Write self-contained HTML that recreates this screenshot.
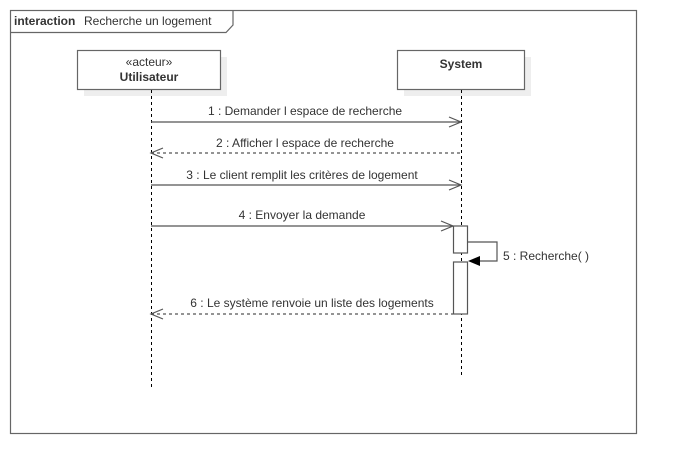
<!DOCTYPE html><html><head><style>body{margin:0;background:#fff}svg{display:block}text{font-family:"Liberation Sans",sans-serif;font-size:12px;fill:#333}</style></head><body>
<svg width="677" height="474" xmlns="http://www.w3.org/2000/svg">
<rect x="10.5" y="10.5" width="626" height="423" fill="none" stroke="#666" stroke-width="1.2"/>
<path d="M10.5 32.5 H226 L233 25 V10.5" fill="none" stroke="#666" stroke-width="1.2"/>
<text x="14" y="25" style="font-weight:bold">interaction</text><text x="84" y="25">Recherche un logement</text>
<rect x="84" y="57" width="143" height="39" fill="#eee"/>
<rect x="77.5" y="50.5" width="143" height="39" fill="#fff" stroke="#666" stroke-width="1.2"/>
<text x="149" y="66" text-anchor="middle" font-size="11">«acteur»</text>
<text x="149" y="81" text-anchor="middle" style="font-weight:bold">Utilisateur</text>
<rect x="404" y="57" width="127" height="39" fill="#eee"/>
<rect x="397.5" y="50.5" width="127" height="39" fill="#fff" stroke="#666" stroke-width="1.2"/>
<text x="461" y="68" text-anchor="middle" style="font-weight:bold">System</text>
<g stroke="#000" stroke-dasharray="3,3" stroke-width="1"><line x1="151.5" y1="90" x2="151.5" y2="388"/><line x1="461.5" y1="90" x2="461.5" y2="376"/></g>
<g stroke="#555" stroke-width="1.2" fill="none">
<line x1="151" y1="122" x2="461" y2="122"/><path d="M449 117 L461 122 L449 127"/>
<line x1="151" y1="153" x2="461" y2="153" stroke-dasharray="3,3"/><path d="M163 148 L151 153 L163 158"/>
<line x1="151" y1="185" x2="461" y2="185"/><path d="M449 180 L461 185 L449 190"/>
<line x1="151" y1="226" x2="453" y2="226"/><path d="M441 221 L453 226 L441 231"/>
<line x1="151" y1="314" x2="453" y2="314" stroke-dasharray="3,3"/><path d="M163 309 L151 314 L163 319"/>
<rect x="453.5" y="226" width="14" height="27" fill="#fff"/>
<rect x="453.5" y="262" width="14" height="52" fill="#fff"/>
<path d="M467 242 H497 V261 H479"/>
</g>
<path d="M468 261 L480 256 L480 266 Z" fill="#000"/>
<g text-anchor="middle"><text x="305" y="115">1 : Demander l espace de recherche</text>
<text x="305" y="147">2 : Afficher l espace de recherche</text>
<text x="302" y="179">3 : Le client remplit les critères de logement</text>
<text x="302" y="219">4 : Envoyer la demande</text>
<text x="312" y="307">6 : Le système renvoie un liste des logements</text></g>
<text x="503" y="260">5 : Recherche( )</text>
</svg></body></html>
